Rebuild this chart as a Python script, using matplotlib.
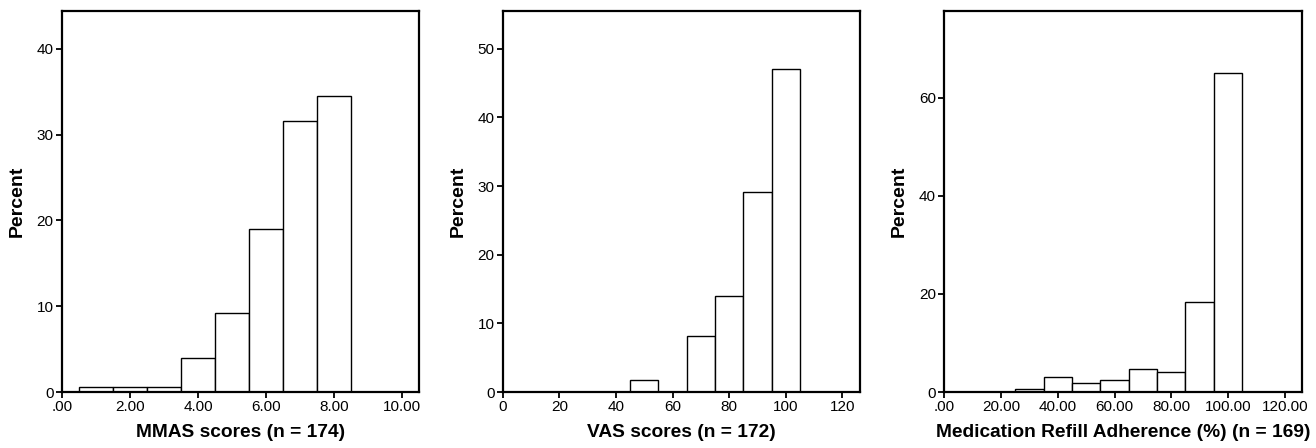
import numpy as np
import matplotlib.pyplot as plt

plt.rcParams['font.family'] = ['Liberation Sans', 'DejaVu Sans']

# MMAS scores, bins centred on integers, width 1
mmas_centers = [1, 2, 3, 4, 5, 6, 7, 8]
mmas_pct = [0.57, 0.57, 0.57, 4.02, 9.2, 18.97, 31.6, 34.5]

# VAS scores, bins of width 10
vas_centers = [50, 70, 80, 90, 100]
vas_pct = [1.74, 8.14, 13.95, 29.07, 47.09]

# medication refill adherence, bins of width 10
mra_centers = [30, 40, 50, 60, 70, 80, 90, 100]
mra_pct = [0.59, 2.96, 1.78, 2.37, 4.73, 4.14, 18.3, 65.1]

panels = [
    dict(centers=mmas_centers, pct=mmas_pct, width=1,
         xlim=(0, 10.5), ylim=(0, 44.4),
         xticks=[0, 2, 4, 6, 8, 10],
         xticklabels=['.00', '2.00', '4.00', '6.00', '8.00', '10.00'],
         yticks=[0, 10, 20, 30, 40],
         xlabel='MMAS scores (n = 174)',
         rect=[0.0471, 0.125, 0.2713, 0.8504]),
    dict(centers=vas_centers, pct=vas_pct, width=10,
         xlim=(0, 126.2), ylim=(0, 55.5),
         xticks=[0, 20, 40, 60, 80, 100, 120],
         xticklabels=['0', '20', '40', '60', '80', '100', '120'],
         yticks=[0, 10, 20, 30, 40, 50],
         xlabel='VAS scores (n = 172)',
         rect=[0.382, 0.125, 0.2715, 0.8504]),
    dict(centers=mra_centers, pct=mra_pct, width=10,
         xlim=(0, 126.1), ylim=(0, 77.7),
         xticks=[0, 20, 40, 60, 80, 100, 120],
         xticklabels=['.00', '20.00', '40.00', '60.00', '80.00', '100.00', '120.00'],
         yticks=[0, 20, 40, 60],
         xlabel='Medication Refill Adherence (%) (n = 169)',
         rect=[0.7176, 0.125, 0.2718, 0.8504]),
]

fig = plt.figure(figsize=(13.16, 4.48), dpi=100)

for p in panels:
    ax = fig.add_axes(p['rect'])
    ax.bar(p['centers'], p['pct'], width=p['width'], color='white',
           edgecolor='black', linewidth=1.0, zorder=2)
    ax.set_xlim(*p['xlim'])
    ax.set_ylim(*p['ylim'])
    ax.set_xticks(p['xticks'])
    ax.set_xticklabels(p['xticklabels'])
    ax.set_yticks(p['yticks'])
    for s in ax.spines.values():
        s.set_linewidth(1.6)
    ax.tick_params(direction='out', length=4, width=1.3, labelsize=11, pad=2)
    ax.set_xlabel(p['xlabel'], fontsize=13.8, fontweight='bold', labelpad=7)
    ax.set_ylabel('Percent', fontsize=14, fontweight='bold', labelpad=8)

fig.savefig('out.png', dpi=100)
